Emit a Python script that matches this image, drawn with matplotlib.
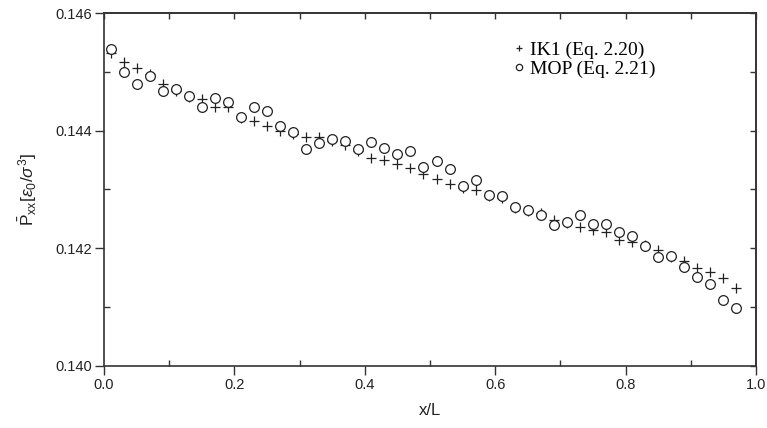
import matplotlib.pyplot as plt
from matplotlib.ticker import MultipleLocator, FormatStrFormatter

# positions x/L
x_pos = [0.01, 0.03, 0.05, 0.07, 0.09, 0.11, 0.13, 0.15, 0.17, 0.19,
         0.21, 0.23, 0.25, 0.27, 0.29, 0.31, 0.33, 0.35, 0.37, 0.39,
         0.41, 0.43, 0.45, 0.47, 0.49, 0.51, 0.53, 0.55, 0.57, 0.59,
         0.61, 0.63, 0.65, 0.67, 0.69, 0.71, 0.73, 0.75, 0.77, 0.79,
         0.81, 0.83, 0.85, 0.87, 0.89, 0.91, 0.93, 0.95, 0.97]

# IK1 (Eq. 2.20)
ik1 = [0.14532, 0.14517, 0.14507, 0.14497, 0.14480, 0.14468, 0.14457, 0.14454, 0.14440, 0.14440,
       0.14422, 0.14417, 0.14408, 0.14400, 0.14395, 0.14390, 0.14390, 0.14383, 0.14376, 0.14366,
       0.14353, 0.14350, 0.14343, 0.14336, 0.14326, 0.14318, 0.14309, 0.14303, 0.14299, 0.14289,
       0.14285, 0.14269, 0.14263, 0.14260, 0.14248, 0.14243, 0.14236, 0.14231, 0.14227, 0.14215,
       0.14210, 0.14206, 0.14197, 0.14185, 0.14178, 0.14167, 0.14159, 0.14150, 0.14133]

# MOP (Eq. 2.21)
mop = [0.14538, 0.14500, 0.14479, 0.14493, 0.14467, 0.14470, 0.14459, 0.14441, 0.14456, 0.14449,
       0.14424, 0.14441, 0.14434, 0.14408, 0.14397, 0.14368, 0.14379, 0.14386, 0.14382, 0.14368,
       0.14380, 0.14370, 0.14361, 0.14365, 0.14338, 0.14349, 0.14335, 0.14306, 0.14316, 0.14291,
       0.14289, 0.14271, 0.14265, 0.14257, 0.14239, 0.14245, 0.14257, 0.14241, 0.14242, 0.14228,
       0.14221, 0.14204, 0.14186, 0.14187, 0.14169, 0.14152, 0.14140, 0.14112, 0.14099]

plt.rcParams['font.family'] = ['Liberation Sans', 'DejaVu Sans']
plt.rcParams['mathtext.fontset'] = 'custom'
plt.rcParams['mathtext.rm'] = 'Liberation Sans'
plt.rcParams['mathtext.it'] = 'Liberation Sans:italic'

fig = plt.figure(figsize=(7.67, 4.28), dpi=100)
ax = fig.add_axes([0.1356, 0.1449, 0.8501, 0.8247])

ax.plot(x_pos, ik1, ls='none', marker='+', ms=7, mew=0.9, color='#222222',
        label='IK1 (Eq. 2.20)', zorder=2)
# circles filled white so they cover crosses underneath
ax.plot(x_pos, mop, ls='none', marker='o', ms=7, mew=0.9, mfc='white', mec='#222222',
        label='MOP (Eq. 2.21)', zorder=3)

ax.set_xlim(0, 1.0)
ax.set_ylim(0.140, 0.146)
ax.xaxis.set_major_locator(MultipleLocator(0.2))
ax.xaxis.set_minor_locator(MultipleLocator(0.1))
ax.yaxis.set_major_locator(MultipleLocator(0.002))
ax.yaxis.set_minor_locator(MultipleLocator(0.001))
ax.xaxis.set_major_formatter(FormatStrFormatter('%.1f'))
ax.yaxis.set_major_formatter(FormatStrFormatter('%.3f'))

for s in ax.spines.values():
    s.set_linewidth(1.2)
    s.set_color('#333333')

ax.tick_params(which='major', direction='out', length=6.5, width=1, colors='#333333',
               labelsize=10.5, labelcolor='#222222', pad=2)
ax.tick_params(which='minor', direction='in', length=4, width=1, colors='#333333')

# ticks on top and right, pointing in
top = ax.secondary_xaxis('top')
top.xaxis.set_major_locator(MultipleLocator(0.1))
top.tick_params(direction='in', length=4, width=1, colors='#333333', labeltop=False)
right = ax.secondary_yaxis('right')
right.yaxis.set_major_locator(MultipleLocator(0.001))
right.tick_params(direction='in', length=4, width=1, colors='#333333', labelright=False)
for sec in (top, right):
    for s in sec.spines.values():
        s.set_linewidth(1.2)
        s.set_color('#333333')

ax.set_xlabel('x/L', fontsize=12, color='#222222', labelpad=8)
ax.set_ylabel(r'$\bar{\mathrm{P}}_{\mathrm{xx}}[\epsilon_{0}/\sigma^{3}]$', fontsize=12.5,
              color='#222222', labelpad=12)

ax.legend(loc='upper left', bbox_to_anchor=(0.6, 0.97), frameon=False,
          markerscale=0.65, handlelength=0.6, handletextpad=0.3, labelspacing=0.08,
          prop={'family': 'Liberation Serif', 'size': 14})

fig.savefig('out.png', dpi=100)
